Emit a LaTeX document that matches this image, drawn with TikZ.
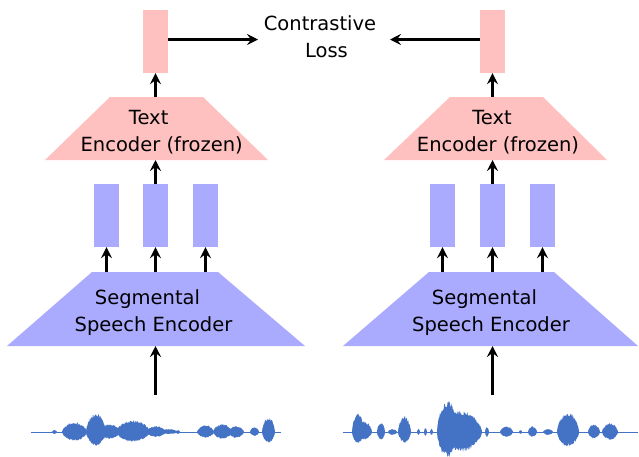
\documentclass[tikz,border=0pt]{standalone}
\usepackage{fontspec}
\setmainfont{DejaVu Sans}
\usetikzlibrary{arrows.meta}
\definecolor{pinkc}{RGB}{255,192,192}
\definecolor{bluec}{RGB}{170,170,255}
\definecolor{wavec}{RGB}{68,114,196}
\newcommand\wvb[4]{%
  \pgfmathtruncatemacro\wvn{2*(#2-#1)+3}%
  \fill[wavec] plot[domain=#1:#2,samples=\wvn] (\x,{432-(#3)*pow(abs(sin(180*(\x-#1)/(#2-#1)))+0.001,0.6)*(0.88+0.12*rand)})
    -- plot[domain=#2:#1,samples=\wvn] (\x,{432+(#4)*pow(abs(sin(180*(\x-#1)/(#2-#1)))+0.001,0.6)*(0.88+0.12*rand)}) -- cycle;}
\tikzset{
  pinkbar/.style={fill=pinkc,minimum width=25pt,minimum height=63pt,inner sep=0pt},
  bluebar/.style={fill=bluec,minimum width=25pt,minimum height=63pt,inner sep=0pt},
  lbl/.style={align=center,inner sep=0pt,font=\fontsize{19.5}{26.5}\selectfont},
  arr/.style={line width=2.5pt,-{Stealth[length=11pt,width=11pt,inset=4pt]}},
  waveline/.style={wavec,line width=1pt}
}
\begin{document}
\begin{tikzpicture}[x=1pt,y=-1pt]
\path[use as bounding box] (0,0) rectangle (639,456);
\pgfmathsetseed{7}
% ---------- left branch ----------
\fill[pinkc] (110,97) -- (203,97) -- (268,160) -- (45,160) -- cycle;
\fill[bluec] (92,272) -- (218,272) -- (305,346) -- (7,346) -- cycle;
\coordinate (te1t) at (155.5,97);
\coordinate (te1b) at (155.5,160);
\coordinate (se1t) at (155.5,272);
\coordinate (se1b) at (155.5,346);
\node[pinkbar] (p1) at (155.5,41.5) {};
\node[bluebar] (b11) at (106.5,215.5) {};
\node[bluebar] (b12) at (155.5,215.5) {};
\node[bluebar] (b13) at (205.5,215.5) {};
\node[lbl] (te1) at (161.7,132) {Text\hspace*{26pt}\mbox{}\\Encoder (frozen)};
\node[lbl] (se1) at (153.5,312.5) {Segmental\hspace*{12pt}\mbox{}\\Speech Encoder};
% ---------- right branch ----------
\fill[pinkc] (450,97) -- (543,97) -- (607,160) -- (384,160) -- cycle;
\fill[bluec] (429,272) -- (554,272) -- (638,346) -- (343,346) -- cycle;
\coordinate (te2t) at (492.5,97);
\coordinate (te2b) at (492.5,160);
\coordinate (se2t) at (492.5,272);
\coordinate (se2b) at (492.5,346);
\node[pinkbar] (p2) at (492.5,41.5) {};
\node[bluebar] (b21) at (442.5,215.5) {};
\node[bluebar] (b22) at (492.5,215.5) {};
\node[bluebar] (b23) at (542.5,215.5) {};
\node[lbl] (te2) at (498,132) {Text\hspace*{12pt}\mbox{}\\Encoder (frozen)};
\node[lbl] (se2) at (491,312.5) {Segmental\hspace*{13pt}\mbox{}\\Speech Encoder};
% ---------- loss ----------
\node[lbl] (cl) at (320,36.6) {Contrastive\\\mbox{}\hspace*{13pt}Loss};
\coordinate (clL) at (258,39.5);
\coordinate (clR) at (390,39.5);
% ---------- waveforms ----------
\coordinate (w1) at (155.5,395);
\coordinate (w2) at (492.5,395);
\draw[waveline] (31,432) -- (281,432);
\wvb{52}{57}{2}{2}
\wvb{62}{87}{10}{9}
\wvb{86}{106}{19}{14}
\wvb{100}{120}{8}{7}
\wvb{116}{150}{12}{10}
\wvb{146}{166}{6}{5}
\wvb{160}{178}{3}{2}
\wvb{176}{180}{2}{2}
\wvb{197}{214}{7}{6}
\wvb{213}{232}{8}{7}
\wvb{228}{244}{6}{6}
\wvb{250}{259}{5}{4}
\wvb{262}{275}{15}{11}
\draw[waveline] (343,432) -- (638,432);
\wvb{352}{364}{19}{11}
\wvb{356}{372}{11}{8}
\wvb{377}{385}{10}{8}
\wvb{388}{397}{3}{3}
\wvb{398}{411}{16}{11}
\wvb{417}{420}{3}{3}
\wvb{424}{427}{4}{4}
\wvb{430}{433}{3}{3}
\wvb{437}{458}{32}{26}
\wvb{440}{482}{22}{20}
\wvb{485}{489}{5}{5}
\wvb{500}{513}{6}{5}
\wvb{519}{522}{2}{2}
\wvb{528}{537}{6}{5}
\wvb{543}{553}{3}{3}
\wvb{557}{579}{20}{15}
\wvb{588}{600}{8}{7}
\wvb{602}{618}{9}{8}
% ---------- arrows ----------
\draw[arr] (w1) -- (se1b);
\draw[arr] (b11.south |- se1t) -- (b11.south);
\draw[arr] (se1t) -- (b12.south);
\draw[arr] (b13.south |- se1t) -- (b13.south);
\draw[arr] (b12.north) -- (te1b);
\draw[arr] (te1t) -- (p1.south);
\draw[arr] (p1.east |- clL) -- (clL);
\draw[arr] (w2) -- (se2b);
\draw[arr] (b21.south |- se2t) -- (b21.south);
\draw[arr] (se2t) -- (b22.south);
\draw[arr] (b23.south |- se2t) -- (b23.south);
\draw[arr] (b22.north) -- (te2b);
\draw[arr] (te2t) -- (p2.south);
\draw[arr] (p2.west |- clR) -- (clR);
\end{tikzpicture}
\end{document}
